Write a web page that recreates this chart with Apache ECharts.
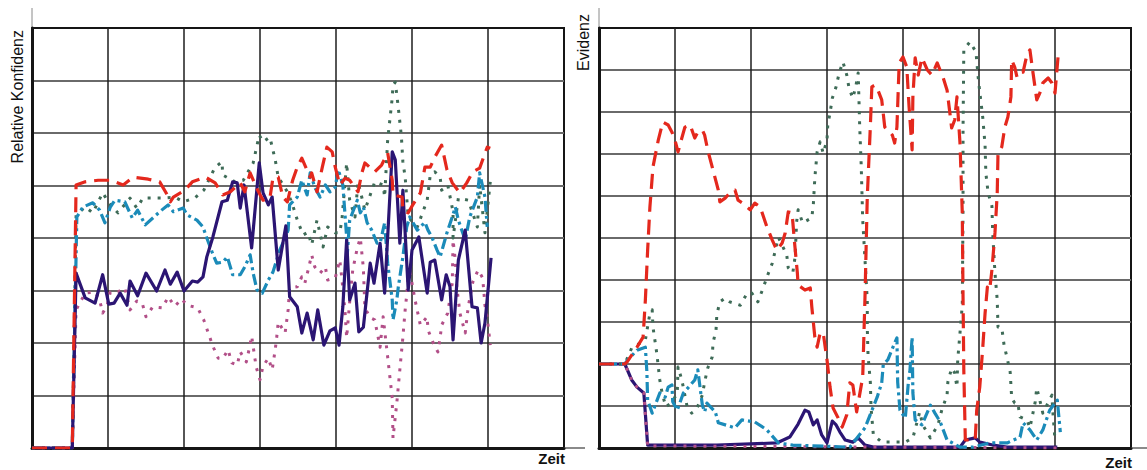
<!DOCTYPE html>
<html>
<head>
<meta charset="utf-8">
<script src="https://cdn.jsdelivr.net/npm/echarts@6/dist/echarts.min.js"></script>
<style>
html,body{margin:0;padding:0;background:#fff;}
#c{width:1147px;height:470px;}
</style>
</head>
<body>
<div id="c"></div>
<script>
// ---- Left chart: "Relative Konfidenz" over "Zeit" (x: 0..70, y: 0..80) ----
const leftRed = [[0,0],[5.3,0],[5.8,50.1],[7,50.7],[8.7,51],[10.3,51],[12,50.1],[13.3,51.6],[15.3,51.2],[16.8,50.7],[17.8,48.2],[18.2,46.9],[18.6,47.8],[20.1,49.1],[21.1,50.7],[22.8,51.6],[24.1,50.5],[25.1,48.2],[26.1,48.8],[27.4,50.5],[28,48.8],[28.7,52.4],[29.7,49.1],[30.4,47.2],[31.3,47.6],[31.7,51.4],[32.4,51.6],[33,47.8],[33.6,46.9],[34.3,51],[34.9,53.5],[35.5,55.2],[36.6,51.6],[36.8,52.4],[37.5,48.8],[38.2,53.5],[38.8,57.3],[39.5,56.4],[39.9,53.5],[40.5,50.1],[41.2,51.4],[41.8,51],[42.9,48.8],[43.4,52.4],[43.8,54.3],[45.1,52.6],[46,53.9],[46.8,56.2],[47.4,51],[47.5,48.2],[48.7,47.8],[48.8,45.3],[49.5,44.8],[50.1,46.3],[51.1,48.6],[51.7,53.5],[52.4,53.5],[53,55.4],[53.9,57.7],[54.6,53],[55.3,50.5],[56.3,48.6],[57.2,50.5],[58,52.6],[58.9,53.3],[59.9,57.3],[60.3,57.1]];
const leftGreen = [[0,0],[5.3,0],[5.8,44.4],[7,45.9],[8,44.8],[9.3,48.6],[10.3,46.3],[11.3,44.8],[12.9,47.6],[13.8,45.7],[14.6,47.6],[15.9,47.6],[17.2,47.6],[18.8,47.8],[19.9,46.9],[21.4,47.6],[22.6,49.1],[24.1,53.5],[25,54.5],[25.1,52],[26.7,50.7],[27.8,51],[29.1,54.3],[29.9,59.6],[30.4,58.3],[31.3,59.2],[32,54.9],[32.4,51.6],[33.6,48.8],[34.2,46.7],[35,43],[35.7,40.6],[36.3,41.1],[36.8,38.7],[37.5,43.4],[38.3,38.3],[38.9,42.1],[39.9,41],[40.5,41],[40.8,43.8],[41.4,54.3],[41.8,47.2],[42.5,44],[42.9,50.7],[43.8,45.3],[44.5,48.2],[45.1,50.7],[46.2,50.1],[46.4,47.8],[46.8,58.7],[47.4,66.7],[47.5,69.1],[47.8,69.7],[48.2,64.8],[48.6,59.4],[48.8,54.5],[49.1,51.6],[49.5,44],[50.7,42.1],[52,47.2],[52.4,52],[53,52.6],[53.7,51.6],[53.9,49.1],[54.7,50.1],[55.4,45],[55.4,40],[56.1,47.6],[57.4,47.2],[58.6,42.1],[58.9,50.1],[59.6,41],[60.3,50.7]];
const leftBlue = [[0,0],[5.3,0],[5.9,44],[6.7,45.9],[8,46.7],[8.9,45.3],[9.6,42.9],[10.3,45.9],[10.9,47.2],[12.2,46.9],[13.2,43.8],[13.9,45.3],[14.9,42.5],[15.9,43.8],[16.8,45],[17.9,46.3],[18.6,45],[19.9,45.7],[20.4,44.4],[21.7,43.4],[22.5,42.1],[23,40],[23.7,37.3],[24.3,35.2],[25.1,35.4],[25.7,36.4],[26.4,33],[27.4,33],[28,34.5],[28.7,36.8],[29.1,33.3],[29.6,30.1],[30.3,29.5],[31.1,32],[31.7,33.5],[32.6,37.7],[33,39],[33.7,41.5],[33.9,46.3],[34.9,47.8],[35.5,51],[36.2,48.2],[36.6,52.4],[37.2,49.7],[37.9,47.8],[38.6,50.1],[39.2,48.8],[39.9,49.7],[40.3,53],[40.9,50.1],[41.4,40.2],[41.4,35.2],[41.8,43.4],[42.8,47.2],[43.2,44.8],[43.6,45.9],[44.1,42.9],[44.7,41.5],[45.4,39],[45.8,39],[46.4,42.9],[46.8,35.2],[47.4,28.2],[47.5,24.4],[48,28.2],[48.2,30.7],[48.8,36.4],[49.3,42.1],[49.7,44],[50.7,41.5],[51.7,43],[52.1,41.5],[52.6,40.2],[53.3,37.7],[53.7,36.4],[54.6,41],[55.3,44],[55.7,45.9],[56.1,43.4],[57,39.6],[57.6,44],[58.6,47.8],[58.9,52.4],[59.6,47.8],[59.9,42.1]];
const leftNavy = [[0,0],[5.3,0],[5.8,33.3],[7,28.6],[8.3,27.6],[9.3,33],[10.1,27.4],[10.8,27.6],[11.6,29.5],[12.5,27.2],[12.9,31.8],[13.9,29],[15,33.3],[16.4,29.9],[17.5,33.9],[18.2,31.2],[19.1,33.5],[20,29.9],[21.1,31.8],[21.8,31.6],[22.5,32.6],[23,36.4],[23.8,40.2],[25,46.9],[25.7,47.2],[26.4,50.7],[27,50.5],[27.4,45.7],[27.9,50.1],[28.9,38.1],[29.9,54.3],[30.4,48.6],[31.1,46.3],[31.6,47.8],[32.4,33.9],[33.4,42.3],[33.9,28.8],[34.9,26.9],[35.5,21.9],[36.2,25.7],[37,20.6],[37.6,26.3],[38.4,19.6],[39.2,22.3],[39.9,22.9],[40.4,19.6],[40.9,26.9],[41.4,39.6],[41.8,28.2],[42.5,31.4],[43,22.1],[43.6,23],[44.5,35.2],[45,31.4],[45.8,39],[46.4,29.5],[47.4,56.4],[47.8,54.9],[48.4,39],[48.8,49.1],[49.5,30.1],[50,37.7],[50.9,40.2],[52,29.5],[52.4,35.4],[53,35.8],[53.9,28.2],[54.5,33],[55,30.7],[55.4,20.6],[56.1,35.8],[57,41.5],[57.9,26.9],[58.6,26.7],[59.1,20],[59.6,23.8],[60.4,36.2]];
const leftPink = [[0,0],[5.3,0],[5.8,26.3],[7,29.5],[8.3,29.7],[8.9,28.2],[9.3,25.7],[9.9,27.2],[10.3,29.7],[11.3,29.7],[12.2,30.5],[12.9,26.3],[13.8,28],[14.5,27.6],[15,25],[15.9,26.9],[17.2,26.7],[17.9,28.8],[18.8,27],[19.7,28.4],[20.4,27.2],[21.8,26.7],[22.6,24.4],[23.2,21.9],[23.8,19.4],[24.5,17.1],[25.1,17],[25.8,18.7],[26.3,16.2],[27,15.8],[27.4,18.3],[28.2,16.4],[28.6,19],[28.9,21.3],[29.5,15.4],[30,13],[30.4,15.6],[31.1,17.1],[31.6,14.9],[32,18.7],[32.2,21.1],[32.4,24],[33.3,21.9],[33.7,26.3],[33.9,30.5],[34.9,30.7],[35.5,32.6],[35.9,31.4],[36.4,34.3],[36.8,36.8],[37.2,34.5],[37.9,33.3],[38.6,34.5],[38.9,32],[39.9,32.4],[40.5,35.8],[40.9,30.5],[41.2,25.7],[41.4,21],[41.8,27.8],[42.2,33.9],[42.8,38.1],[43.2,40],[43.6,34.3],[43.8,26.7],[44.5,24.8],[45.1,24.4],[45.8,19.2],[46.2,25],[46.8,17.3],[47.4,9.5],[47.5,1.9],[48,8.6],[48.4,14.9],[48.8,21.1],[49.1,26.3],[49.3,29.1],[49.5,32.6],[49.7,33.5],[50,31.4],[50.4,28.2],[51.1,23.4],[52,25],[52.1,22.5],[52.8,20],[53.4,18.3],[53.7,21],[53.9,23.4],[54.7,25.7],[55.3,31.4],[55.4,39.6],[55.7,35.8],[55.9,30.7],[56.3,25.7],[57,21.9],[57.4,26.9],[58,31.6],[58.7,33.9],[59.3,32.4],[59.6,27.2],[59.9,24.8],[60.3,19.6]];

// ---- Right chart: "Evidenz" over "Zeit" (x: 0..70, y: 0..100) ----
const rightRed = [[0,20],[3.4,20],[3.7,20.5],[5,24],[5.8,26.4],[6.1,35.2],[6.4,47.1],[6.7,57.4],[7.1,66.9],[7.8,73.3],[8.4,77.6],[9.1,76.9],[9.6,75.2],[10,73.3],[10.4,70.5],[10.9,73.8],[11.3,76.4],[12,76.9],[12.6,73.8],[13,75.2],[13.6,75.7],[13.9,74.5],[14.3,71],[15,66.2],[15.7,61.4],[15.9,58.6],[16.6,59.5],[17.2,60.7],[17.9,61.4],[18.3,59],[18.9,58.3],[19.9,56.7],[20.5,58.3],[21.2,57.4],[22.1,52.6],[22.8,49.5],[23.4,47.1],[24.1,48.8],[24.5,51.2],[24.9,56.2],[25.4,56],[25.7,49.5],[26.1,41.7],[26.2,38.8],[27.1,37.6],[27.8,38.1],[28,33.6],[28.4,26.4],[28.7,24],[29.1,27.4],[29.5,27.4],[30,21],[30.4,14.5],[30.8,9.5],[31.4,7.4],[32,5],[32.6,7.9],[33,15.5],[33.4,15],[33.9,8.6],[34.7,16.9],[35,36],[35.3,59.8],[35.7,76.4],[35.9,86],[36.3,86.4],[36.7,85.2],[37.2,82.9],[37.6,76.4],[38.6,74.5],[38.9,72.6],[39.2,76.4],[39.5,91.7],[40,93.1],[40.5,90.7],[40.8,81.2],[41.2,71],[41.3,83.6],[41.6,92.9],[42,88.8],[42.5,92.9],[43.2,90],[43.8,88.8],[44.5,91.7],[45.3,88.1],[45.8,85.2],[46.2,79.3],[46.4,76.2],[46.8,78.1],[47.1,83.6],[47.5,72.6],[47.8,56],[47.9,36],[48,18.6],[48.2,1.9],[49.5,1.9],[49.7,9],[50.1,14.5],[50.5,24],[50.8,32.1],[51.1,38.3],[51.4,37.6],[51.7,42.4],[52.1,51.2],[52.4,60.7],[52.5,70.2],[53,71.7],[53.4,76.4],[53.8,78.8],[54.2,83.6],[54.3,92.4],[54.7,90.7],[55,88.3],[55.4,89.5],[55.8,89.5],[56.3,93.6],[56.7,94.8],[57,90.7],[57.6,82.9],[58,84.5],[58.4,86.9],[59.1,88.1],[59.6,86.9],[60,84.5],[60.4,93.1]];
const rightGreen = [[0,20],[3.4,20],[4.3,23.8],[6.1,25.7],[6.7,32.1],[7,32.9],[7.1,28.8],[7.6,22.6],[8,16.2],[8.3,13.1],[8.8,9.8],[9.7,11],[10.3,13.3],[10.4,19.3],[10.9,16.2],[11.6,9.8],[12.2,8.3],[12.9,9.5],[13.6,12.6],[13.9,15.7],[14.3,19],[14.9,21.7],[15,25],[15.4,28.1],[15.5,31.7],[15.9,34.8],[16.6,35.7],[17.2,34.8],[18.6,34],[19.5,36.9],[20.1,36.9],[20.9,34.8],[21.6,38.1],[22.2,41.2],[22.8,44],[23.2,47.1],[23.6,50.2],[24.2,47.9],[24.7,46],[24.9,42.9],[25.5,41.7],[25.8,45.5],[26,53.8],[26.2,56.7],[26.8,53.6],[28,54.8],[28.2,57.9],[28.4,64.3],[28.7,70.5],[29.1,72.9],[29.5,70.2],[30,73.3],[30.1,76.9],[30.4,79.8],[30.7,83.3],[31.2,86],[31.6,89.3],[32.1,91.9],[32.6,88.8],[32.9,85.7],[33.4,83.3],[33.8,86.2],[34.1,89.3],[34.2,83.3],[34.3,76.7],[34.5,67.4],[34.6,60.7],[34.7,54.3],[35,44.8],[35.3,35.2],[35.3,28.6],[35.4,22.1],[35.7,15.7],[35.8,9.5],[36.1,3.1],[37.2,1.4],[40.3,1.4],[41.3,2.4],[42.2,8.6],[42.6,5.5],[43.6,2.4],[44.6,5.5],[45.1,9],[45.8,12.6],[45.9,15.7],[46.4,19],[46.8,17.9],[47.1,14.5],[47.2,21],[47.5,27.4],[47.8,34],[47.9,56.7],[47.9,75.7],[48,94.8],[48.8,96.7],[49.6,94.3],[49.9,88.1],[50.1,84.8],[50.5,78.6],[50.8,72.1],[50.9,65.5],[51.2,60.7],[51.7,57.6],[51.8,51.2],[52.1,41.7],[52.4,35.2],[52.5,28.8],[53,28.6],[53.3,24.5],[53.7,21.4],[54.1,18.1],[54.3,11.9],[54.7,10.7],[55.1,10.7],[55.4,7.4],[56.3,6.7],[56.7,4.8],[57.4,11],[57.6,14.3],[58,11.4],[58.4,8.3],[59.6,12.6],[59.7,9],[60,1.9]];
const rightBlue = [[0,20],[3.4,20],[3.8,21],[5,23.3],[6.1,24],[6.3,18.1],[6.4,11.4],[7,8.3],[8,13.1],[8.7,12.1],[9.1,14.5],[9.6,15],[9.7,11],[10.3,9],[11.1,13.1],[11.7,14.3],[12.6,16.2],[13,18.6],[13.6,10.2],[13.9,8.6],[14.2,10.7],[15.3,8.6],[15.7,6],[17.9,4.8],[18.8,6.7],[20.5,6.2],[22.1,4.3],[23.6,1.2],[25.5,0.7],[33,0.2],[35,4.8],[36.6,12.1],[37.2,15.5],[37.4,19.8],[38,21],[38.9,25],[39.2,26.2],[39.3,15.7],[39.6,9],[40.3,7.1],[40.7,15.5],[40.9,18.1],[41.2,26.4],[41.3,13.1],[41.6,6.7],[42.5,5.5],[43.6,10.2],[44.2,8.3],[44.9,6.2],[45.8,1.9],[47.5,0.2],[49.2,0.2],[51.4,1.2],[53.7,1.2],[55.4,2.6],[55.8,6],[56.7,4.3],[57.6,1.9],[58.4,4.3],[59.3,9],[60.3,11.4],[60.7,3.8]];
const rightNavy = [[0,20],[3.4,20],[4.3,16.2],[5,14.5],[5.9,13.1],[6.4,0.7],[15.5,0.7],[23.4,1.2],[25.1,2.6],[26.2,5.7],[27.1,9],[27.6,8.6],[28.2,5.5],[28.7,6.7],[29.3,3.1],[30,1.2],[30.7,6.4],[31.2,5.5],[31.7,3.8],[32.4,1.9],[33.4,1.4],[34.1,2.4],[35,0.7],[36.1,0.2],[47.5,0.2],[48.2,1.9],[49.5,2.4],[50.1,1.4],[51.8,0.7],[53.7,0.2],[60.3,0.2]];
const rightPink = [[0,20],[3.4,20],[4.3,16.2],[5,14.5],[5.9,13.1],[6.4,0.5],[60.3,0]];

const yNames = ['Relative Konfidenz', 'Evidenz'];
const xName = 'Zeit';

const C = {red:'#e4281d', green:'#3e6b57', blue:'#1b8bb9', navy:'#2b1573', pink:'#b24f88'};

function mk(data, color, dash, idx, z, w){
  return {
    type:'line', data:data, xAxisIndex:idx, yAxisIndex:idx, showSymbol:false, symbol:'none',
    silent:true, animation:false, z:z,
    lineStyle:{color:color, width:w, type:dash, cap:'butt', join:'round'}
  };
}
const DOT=[3,7], DASH=[15,8], DASHDOT=[11,4,3,4];

const chart = echarts.init(document.getElementById('c'), null, {renderer:'svg'});

function xAx(idx, padTop){
  return {
    type:'value', gridIndex:idx, min:0, max:70, interval:10,
    name:xName, nameLocation:'end', nameGap:1,
    nameTextStyle:{color:'#111', fontSize:15, fontWeight:'bold', fontFamily:'Liberation Sans, Arial, sans-serif', align:'right', verticalAlign:'top', padding:[padTop,0,0,0]},
    axisLine:{show:true, onZero:false, lineStyle:{color:'#151515', width:3}},
    axisTick:{show:false}, axisLabel:{show:false},
    splitLine:{show:true, showMinLine:false, showMaxLine:false, lineStyle:{color:'#1e1e1e', width:1.5}}
  };
}
function yAx(idx, max){
  return {
    type:'value', gridIndex:idx, min:0, max:max, interval:10,
    axisLine:{show:true, onZero:false, lineStyle:{color:'#151515', width:3}},
    axisTick:{show:false}, axisLabel:{show:false},
    splitLine:{show:true, showMinLine:false, showMaxLine:false, lineStyle:{color:'#6a6a6a', width:2}}
  };
}

const option = {
  backgroundColor:'#fff',
  animation:false,
  grid:[
    {left:32, top:28, width:532, height:420, show:true, borderColor:'#151515', borderWidth:2, backgroundColor:'transparent'},
    {left:599, top:28, width:532, height:420, show:true, borderColor:'#151515', borderWidth:2, backgroundColor:'transparent'}
  ],
  xAxis:[xAx(0,3), xAx(1,7)],
  yAxis:[yAx(0,80), yAx(1,100)],
  graphic:[
    {type:'line', shape:{x1:32, y1:8, x2:32, y2:28}, style:{stroke:'#8a8a8a', lineWidth:1}},
    {type:'line', shape:{x1:599, y1:8, x2:599, y2:28}, style:{stroke:'#8a8a8a', lineWidth:1}},
    {type:'line', shape:{x1:564, y1:448, x2:585, y2:448}, style:{stroke:'#8a8a8a', lineWidth:2}},
    {type:'line', shape:{x1:1131, y1:448, x2:1147, y2:448}, style:{stroke:'#8a8a8a', lineWidth:2}},
    {type:'text', x:17.5, y:30, rotation:Math.PI/2,
     style:{text:yNames[0], font:'16px "Liberation Sans", Arial, sans-serif', fill:'#111', align:'right', verticalAlign:'middle', textAlign:'right', textVerticalAlign:'middle'}},
    {type:'text', x:583, y:14, rotation:Math.PI/2,
     style:{text:yNames[1], font:'16px "Liberation Sans", Arial, sans-serif', fill:'#111', align:'right', verticalAlign:'middle', textAlign:'right', textVerticalAlign:'middle'}}
  ],
  series:[
    mk(leftPink, C.pink, DOT, 0, 2, 3),
    mk(leftGreen, C.green, DOT, 0, 3, 3),
    mk(leftBlue, C.blue, DASHDOT, 0, 4, 3.2),
    mk(leftNavy, C.navy, 'solid', 0, 5, 3.2),
    mk(leftRed, C.red, DASH, 0, 6, 3.2),
    mk(rightNavy, C.navy, 'solid', 1, 2, 3.2),
    mk(rightPink, C.pink, DOT, 1, 3, 3),
    mk(rightGreen, C.green, DOT, 1, 4, 3),
    mk(rightBlue, C.blue, DASHDOT, 1, 5, 3.2),
    mk(rightRed, C.red, DASH, 1, 6, 3.2)
  ]
};
chart.setOption(option);
</script>
</body>
</html>
